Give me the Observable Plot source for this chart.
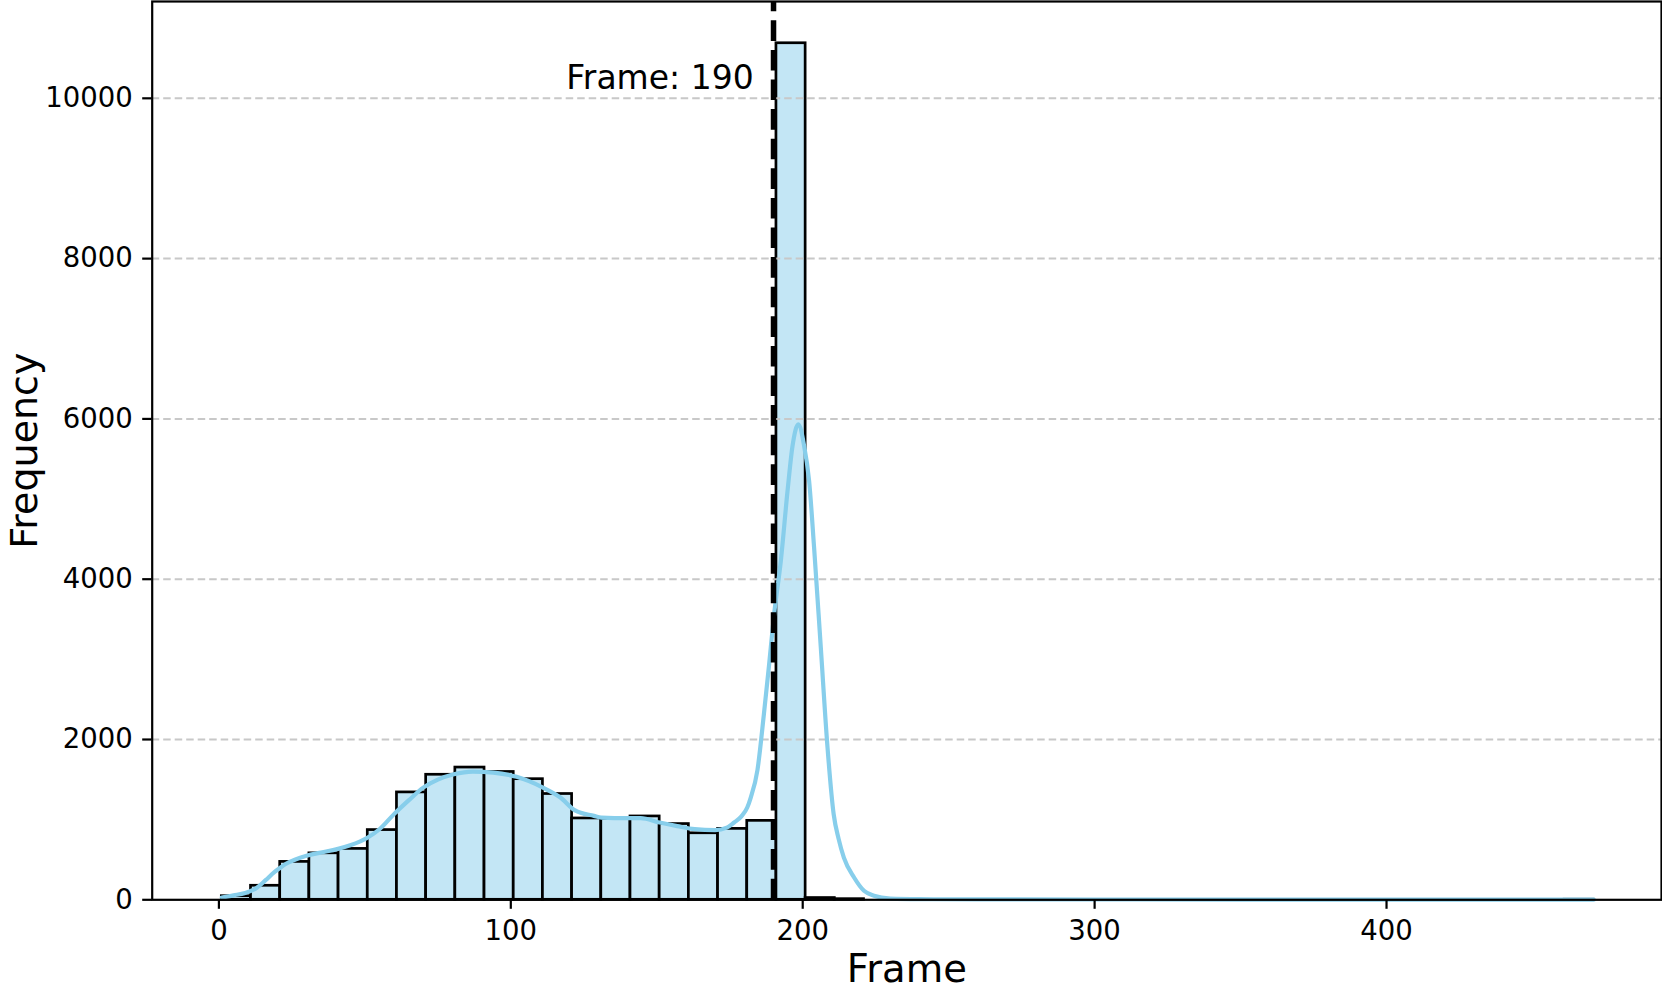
<!DOCTYPE html>
<html>
<head>
<meta charset="utf-8">
<script src="https://cdn.jsdelivr.net/npm/d3@7"></script>
<script src="https://cdn.jsdelivr.net/npm/@observablehq/plot@0.6"></script>
<style>
html, body { margin: 0; padding: 0; background: #ffffff; }
svg { display: block; }
</style>
</head>
<body>
<div id="chart"></div>
<script>
// ---- Data ----
const binStart = 1;
const binWidth = 10;
const binCounts = [
  45, 175, 473, 580, 635, 870, 1340, 1560, 1650, 1595,
  1505, 1320, 1015, 1010, 1040, 945, 830, 885, 985, 10687,
  22, 8, 0, 0, 0, 0, 0, 0, 0, 0,
  0, 0, 0, 0, 0, 0, 0, 0, 0, 0,
  0, 0, 0, 0, 0, 0, 1
];

const kdeX = [1, 5, 9, 13, 16, 19, 21, 23, 26, 30, 35, 40.5, 45, 51, 55, 60, 65, 70, 75, 80.5, 87, 94, 102,
  111, 117, 122, 128.5, 131, 140, 144.5, 151, 157, 163, 170, 174, 176.5, 179, 181, 182.2, 184.5,
  186.7, 188.5, 190.2, 192.5, 194.8, 196.5, 198.5, 200.4, 202.2, 203.9, 206.2, 208.5, 210.6, 212.3,
  214.1, 217.6, 221, 224.4, 230, 240, 260, 300, 350, 400, 471];
const kdeY = [29, 55, 85, 150, 245, 345, 400, 450, 500, 549, 590, 632, 680, 777, 880, 1069, 1240, 1400, 1500, 1567, 1600, 1587, 1534,
  1400, 1276, 1115, 1047, 1026, 1019, 1019, 964, 920, 882, 869, 900, 964, 1040, 1151, 1276, 1620,
  2315, 2939, 3562, 4227, 5100, 5661, 5932, 5682, 5224, 4393, 3146, 1899, 1069, 760,
  527, 278, 112, 50, 15, 8, 5, 4, 3, 3, 2];

const markerFrame = 190;
const markerLabel = "Frame: 190";
const markerLabelX = 183.2;
const markerLabelY = 10120;

const xTicks = [0, 100, 200, 300, 400];
const yTicks = [0, 2000, 4000, 6000, 8000, 10000];
const xLabel = "Frame";
const yLabel = "Frequency";

// ---- Build tables ----
const bins = binCounts.map((c, i) => ({
  x1: binStart + i * binWidth,
  x2: binStart + (i + 1) * binWidth,
  count: c
}));
const kde = kdeX.map((x, i) => ({ x, y: kdeY[i] }));
const yMax = 11208;

const chart = Plot.plot({
  width: 1662,
  height: 992,
  marginLeft: 151.7,
  marginRight: 1,
  marginTop: 1,
  marginBottom: 92.7,
  x: { domain: [-22.85, 494.2] },
  y: { domain: [0, yMax] },
  style: { fontFamily: "DejaVu Sans", fontSize: "27.5px", background: "#ffffff", color: "#000000" },
  marks: [
    Plot.rectY(bins, { x1: "x1", x2: "x2", y: "count", fill: "#c3e6f5", stroke: "#000000", strokeWidth: 2.7 }),
    Plot.ruleY(yTicks.filter(d => d > 0), { stroke: "#c8c8c8", strokeWidth: 2, strokeDasharray: "7.5,4" }),
    Plot.line(kde, { x: "x", y: "y", stroke: "#87ceeb", strokeWidth: 4.2, curve: "monotone-x" }),
    Plot.ruleX([markerFrame], { y1: 0, y2: yMax, stroke: "#000000", strokeWidth: 5.5, strokeDasharray: "20.6,9" }),
    Plot.text([markerLabel], { x: markerLabelX, y: markerLabelY, text: d => d, textAnchor: "end", lineAnchor: "bottom", fontSize: 33, fill: "#000000" }),
    Plot.frame({ stroke: "#000000", strokeWidth: 2.2 }),
    Plot.axisX({ ticks: xTicks, tickFormat: d => String(d), tickSize: 9.5, tickPadding: 11, strokeWidth: 2.2, label: null, fontSize: 27.5 }),
    Plot.axisY({ ticks: yTicks, tickFormat: d => String(d), tickSize: 9.5, tickPadding: 10, strokeWidth: 2.2, label: null, fontSize: 27.5 }),
    Plot.text([xLabel], { text: d => d, frameAnchor: "bottom", dy: 82.5, lineAnchor: "bottom", textAnchor: "middle", fontSize: 38.5, fill: "#000000" }),
    Plot.text([yLabel], { text: d => d, frameAnchor: "left", dx: -115, rotate: -90, lineAnchor: "bottom", textAnchor: "middle", fontSize: 38, fill: "#000000" })
  ]
});
document.getElementById("chart").appendChild(chart);
</script>
</body>
</html>
